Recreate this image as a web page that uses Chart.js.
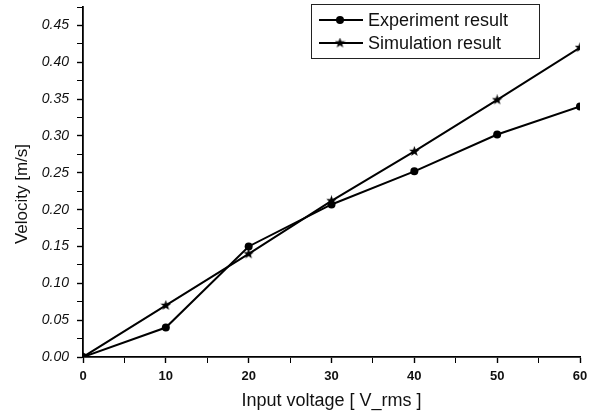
<!DOCTYPE html>
<html>
<head>
<meta charset="utf-8">
<script src="https://cdn.jsdelivr.net/npm/chart.js@4.4.0/dist/chart.umd.min.js"></script>
<style>
  html, body { margin: 0; padding: 0; background: #fff; }
  #wrap { width: 594px; height: 417px; }
</style>
</head>
<body>
<div id="wrap"><canvas id="velocityChart"></canvas></div>
<script>
// input voltage [V_rms]
const voltages = [0, 10, 20, 30, 40, 50, 60];
// velocity [m/s]
const experimentVelocity = [0, 0.040, 0.150, 0.207, 0.252, 0.302, 0.340];
const simulationVelocity = [0, 0.070, 0.140, 0.212, 0.279, 0.349, 0.420];
const seriesLabels = ["Experiment result", "Simulation result"];
const xMajorTicks = [0, 10, 20, 30, 40, 50, 60];
const yMajorTicks = [0, 0.05, 0.1, 0.15, 0.2, 0.25, 0.3, 0.35, 0.4, 0.45];
const yTitle = "Velocity [m/s]";

const FONT = "Arial, 'Liberation Sans', sans-serif";

// filled five point star used as the simulation marker
function makeStar(size) {
    const c = document.createElement("canvas");
    c.width = size;
    c.height = size;
    const g = c.getContext("2d");
    const cx = size / 2, cy = size / 2;
    const outer = size / 2, inner = outer * 0.42;
    g.beginPath();
    for (let i = 0; i < 10; i++) {
        const r = i % 2 === 0 ? outer : inner;
        const a = -Math.PI / 2 + i * Math.PI / 5;
        const px = cx + r * Math.cos(a), py = cy + r * Math.sin(a);
        if (i === 0) g.moveTo(px, py); else g.lineTo(px, py);
    }
    g.closePath();
    g.fillStyle = "#000";
    g.fill();
    return c;
}
const starMarker = makeStar(11);

const isMajor = (v, list) => list.some(t => Math.abs(t - v) < 1e-6);

// legend box inside the plot (top right) + y title sitting a bit low like the original
const boxLegend = {
    id: "boxLegend",
    afterDraw(chart) {
        const ctx = chart.ctx;
        const x0 = 311, y0 = 4, w = 228, h = 54;
        ctx.save();
        ctx.strokeStyle = "#222";
        ctx.lineWidth = 1;
        ctx.fillStyle = "#fff";
        ctx.fillRect(x0, y0, w, h);
        ctx.strokeRect(x0 + 0.5, y0 + 0.5, w, h);
        const rows = [20, 43];
        rows.forEach((ry, i) => {
            ctx.strokeStyle = "#000";
            ctx.lineWidth = 2;
            ctx.beginPath();
            ctx.moveTo(319, ry);
            ctx.lineTo(363, ry);
            ctx.stroke();
            if (i === 0) {
                ctx.fillStyle = "#000";
                ctx.beginPath();
                ctx.arc(340, ry, 4, 0, Math.PI * 2);
                ctx.fill();
            } else {
                ctx.drawImage(starMarker, 340 - 5.5, ry - 5.5);
            }
            ctx.fillStyle = "#111";
            ctx.font = "18px " + FONT;
            ctx.textBaseline = "middle";
            ctx.textAlign = "left";
            ctx.fillText(seriesLabels[i], 368, ry + 1);
        });

        ctx.translate(22, 194);
        ctx.rotate(-Math.PI / 2);
        ctx.font = "17px " + FONT;
        ctx.textAlign = "center";
        ctx.textBaseline = "middle";
        ctx.fillStyle = "#111";
        ctx.fillText(yTitle, 0, 0);
        ctx.restore();
    }
};

const ctx = document.getElementById("velocityChart");
new Chart(ctx, {
    type: "line",
    data: {
        datasets: [
            {
                label: seriesLabels[0],
                data: voltages.map((v, i) => ({ x: v, y: experimentVelocity[i] })),
                borderColor: "#000",
                backgroundColor: "#000",
                borderWidth: 2,
                pointStyle: "circle",
                pointRadius: 4,
                pointBorderWidth: 0,
                tension: 0,
            },
            {
                label: seriesLabels[1],
                data: voltages.map((v, i) => ({ x: v, y: simulationVelocity[i] })),
                borderColor: "#000",
                backgroundColor: "#000",
                borderWidth: 2,
                pointStyle: starMarker,
                tension: 0,
            },
        ],
    },
    options: {
        responsive: true,
        maintainAspectRatio: false,
        animation: false,
        events: [],
        layout: { padding: { left: 0, right: 14, top: 7, bottom: 0 } },
        plugins: {
            legend: { display: false },
            tooltip: { enabled: false },
        },
        scales: {
            x: {
                type: "linear",
                min: 0,
                max: 60,
                afterFit: (s) => {
                    s.height = 60;
                    s.paddingLeft = 0;
                    s.paddingRight = 0;
                },
                ticks: {
                    stepSize: 5,
                    autoSkip: false,
                    maxRotation: 0,
                    padding: 6,
                    color: "#111",
                    font: { family: FONT, size: 13, weight: "bold" },
                    callback: (v) => isMajor(v, xMajorTicks) ? String(v) : "",
                },
                grid: {
                    drawOnChartArea: false,
                    tickLength: 6,
                    tickColor: "#000",
                    tickWidth: (c) => isMajor(c.tick.value, xMajorTicks) ? 1.4 : 1,
                },
                border: { display: true, color: "#000", width: 1.8 },
                title: {
                    display: true,
                    text: "Input voltage [ V_rms ]",
                    color: "#111",
                    font: { family: FONT, size: 18 },
                    padding: { top: 0, bottom: 5 },
                },
            },
            y: {
                type: "linear",
                min: 0,
                max: 0.475,
                afterFit: (s) => {
                    s.width = 83;
                    s.paddingTop = 0;
                    s.paddingBottom = 0;
                },
                ticks: {
                    stepSize: 0.025,
                    autoSkip: false,
                    padding: 8,
                    color: "#111",
                    font: { family: FONT, size: 14, style: "italic" },
                    callback: (v) => isMajor(v, yMajorTicks) ? v.toFixed(2) : "",
                },
                grid: {
                    drawOnChartArea: false,
                    tickLength: 6,
                    tickColor: "#000",
                    tickWidth: (c) => isMajor(c.tick.value, yMajorTicks) ? 1.4 : 1,
                },
                border: { display: true, color: "#000", width: 1.8 },
                title: { display: false },
            },
        },
    },
    plugins: [boxLegend],
});
</script>
</body>
</html>
